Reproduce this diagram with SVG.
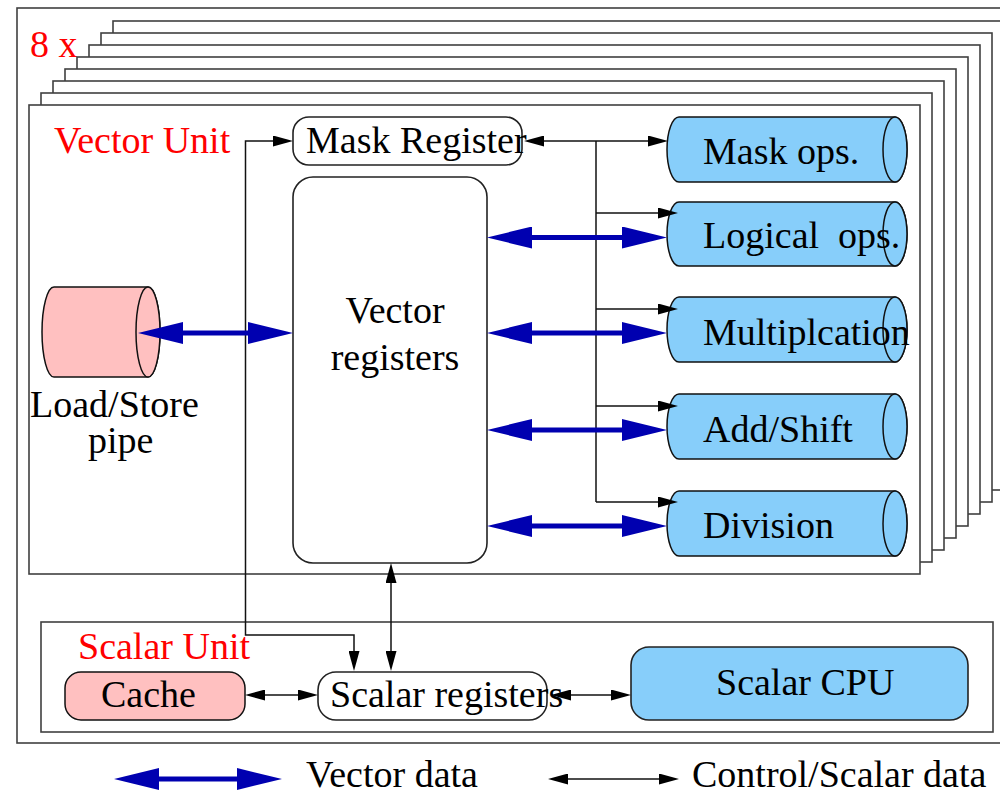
<svg xmlns="http://www.w3.org/2000/svg" width="1000" height="795" viewBox="0 0 1000 795">
  <style>
    text { font-family: "Liberation Serif", "Times New Roman", serif; font-size: 38px; fill: #000; }
    .red { fill: #ff0000; }
    .frame { fill: #fff; stroke: #404040; stroke-width: 1.6; }
    .box { fill: #fff; stroke: #222; stroke-width: 1.6; }
    .pipe { fill: #87cefa; stroke: #111; stroke-width: 1.5; }
    .pink { fill: #ffc0c0; stroke: #111; stroke-width: 1.5; }
    .cpu { fill: #87cefa; stroke: #222; stroke-width: 1.6; }
    .ctl { fill: none; stroke: #111; stroke-width: 1.5; }
    .ctl2 { marker-start: url(#hd); marker-end: url(#hd); }
    .ctl1 { marker-end: url(#hd); }
    .vec { fill: none; stroke: #0000b0; stroke-width: 5; marker-start: url(#vh); marker-end: url(#vh); }
  </style>
  <defs>
    <!-- thin control arrowhead, base at line end -->
    <marker id="hd" markerUnits="userSpaceOnUse" markerWidth="20" markerHeight="11" refX="0" refY="5.5" orient="auto-start-reverse">
      <path d="M0,0 L20,5.5 L0,11 Z" fill="#000"/>
    </marker>
    <!-- thick vector-data arrowhead -->
    <marker id="vh" markerUnits="userSpaceOnUse" markerWidth="45" markerHeight="22" refX="0" refY="11" orient="auto-start-reverse">
      <path d="M0,0 L45,11 L0,22 Z" fill="#0000b0"/>
    </marker>
  </defs>

  <rect width="1000" height="795" fill="#fff"/>

  <!-- outer machine frame -->
  <rect class="frame" x="17" y="8" width="1000" height="735"/>
  <text class="red" x="30" y="57">8 x</text>

  <!-- stacked copies of the vector unit -->
  <g id="vector-unit-stack">
    <rect class="frame" x="113" y="21" width="891" height="469"/>
    <rect class="frame" x="101" y="33" width="891" height="469"/>
    <rect class="frame" x="89" y="45" width="891" height="469"/>
    <rect class="frame" x="77" y="57" width="891" height="469"/>
    <rect class="frame" x="65" y="69" width="891" height="469"/>
    <rect class="frame" x="53" y="81" width="891" height="469"/>
    <rect class="frame" x="41" y="93" width="891" height="469"/>
  </g>

  <g id="vector-unit">
    <rect class="frame" x="29" y="105" width="891" height="469"/>
    <text class="red" x="54" y="153">Vector Unit</text>
  </g>

  <g id="scalar-unit">
    <rect class="frame" x="41" y="622" width="952" height="110"/>
    <text class="red" x="78" y="659">Scalar Unit</text>
  </g>

  <g id="mask-register">
    <rect class="box" x="293" y="117" width="229" height="48" rx="16"/>
    <text x="306" y="153">Mask Register</text>
  </g>

  <g id="vector-registers">
    <rect class="box" x="293" y="177" width="194" height="386" rx="20"/>
    <text x="395" y="323" text-anchor="middle">Vector</text>
    <text x="395" y="370" text-anchor="middle">registers</text>
  </g>

  <g id="load-store-pipe">
    <path class="pink" d="M54,287 L148,287 A12,45 0 0 1 148,377 L54,377 A12,45 0 0 1 54,287 Z"/>
    <ellipse class="pink" cx="148" cy="332" rx="12" ry="45"/>
    <text x="30" y="417">Load/Store</text>
    <text x="88" y="453">pipe</text>
  </g>

  <g id="mask-ops">
    <path class="pipe" d="M679,117 L895,117 A12,32.5 0 0 1 895,182 L679,182 A12,32.5 0 0 1 679,117 Z"/>
    <ellipse class="pipe" cx="895" cy="149.5" rx="12" ry="32.5"/>
    <text x="703" y="164">Mask ops.</text>
  </g>

  <g id="logical-ops">
    <path class="pipe" d="M679,202 L895,202 A12,32 0 0 1 895,266 L679,266 A12,32 0 0 1 679,202 Z"/>
    <ellipse class="pipe" cx="895" cy="234" rx="12" ry="32"/>
    <text x="703" y="248" xml:space="preserve" style="white-space:pre">Logical  ops.</text>
  </g>

  <g id="multiplication">
    <path class="pipe" d="M679,297 L895,297 A12,32.5 0 0 1 895,362 L679,362 A12,32.5 0 0 1 679,297 Z"/>
    <ellipse class="pipe" cx="895" cy="329.5" rx="12" ry="32.5"/>
    <text x="703" y="345">Multiplcation</text>
  </g>

  <g id="add-shift">
    <path class="pipe" d="M679,394 L895,394 A12,32.5 0 0 1 895,459 L679,459 A12,32.5 0 0 1 679,394 Z"/>
    <ellipse class="pipe" cx="895" cy="426.5" rx="12" ry="32.5"/>
    <text x="703" y="442">Add/Shift</text>
  </g>

  <g id="division">
    <path class="pipe" d="M679,491 L895,491 A12,32.5 0 0 1 895,556 L679,556 A12,32.5 0 0 1 679,491 Z"/>
    <ellipse class="pipe" cx="895" cy="523.5" rx="12" ry="32.5"/>
    <text x="703" y="538">Division</text>
  </g>

  <g id="cache">
    <rect class="pink" x="65" y="672" width="180" height="48" rx="16"/>
    <text x="101" y="707">Cache</text>
  </g>

  <g id="scalar-registers">
    <rect class="box" x="318" y="672" width="229" height="48" rx="18"/>
    <text x="330" y="707">Scalar registers</text>
  </g>

  <g id="scalar-cpu">
    <rect class="cpu" x="631" y="647" width="337" height="73" rx="18"/>
    <text x="716" y="695">Scalar CPU</text>
  </g>

  <g id="connectors">
    <!-- scalar registers to mask register control path -->
    <path class="ctl ctl2" d="M273,141 L245.5,141 L245.5,635 L354,635 L354,651"/>
    <!-- mask register to mask ops -->
    <path class="ctl ctl2" d="M544,141 L648,141"/>
    <!-- control bus to the functional pipes -->
    <path class="ctl" d="M596,141 L596,502"/>
    <path class="ctl ctl1" d="M596,213 L658,213"/>
    <path class="ctl ctl1" d="M596,309 L658,309"/>
    <path class="ctl ctl1" d="M596,406 L658,406"/>
    <path class="ctl ctl1" d="M596,502 L658,502"/>
    <!-- vector registers to scalar registers -->
    <path class="ctl ctl2" d="M391,583 L391,651"/>
    <!-- cache, scalar registers, scalar cpu -->
    <path class="ctl ctl2" d="M265,695 L298,695"/>
    <path class="ctl ctl2" d="M571,695 L611,695"/>
    <!-- vector data paths -->
    <path class="vec" d="M183,333 L248,333"/>
    <path class="vec" d="M532,237.5 L622,237.5"/>
    <path class="vec" d="M532,333 L622,333"/>
    <path class="vec" d="M532,430 L622,430"/>
    <path class="vec" d="M532,526 L622,526"/>
  </g>

  <g id="legend">
    <path class="vec" d="M159,779 L237,779"/>
    <text x="306" y="787">Vector data</text>
    <path class="ctl ctl2" d="M568,779 L659,779"/>
    <text x="692" y="787">Control/Scalar data</text>
  </g>
</svg>
